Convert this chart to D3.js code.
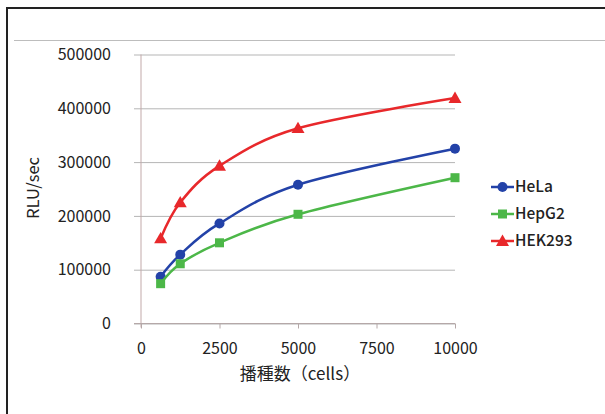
<!DOCTYPE html>
<html>
<head>
<meta charset="utf-8">
<script src="https://cdn.jsdelivr.net/npm/d3@7"></script>
<style>
  html, body { margin: 0; padding: 0; background: #fff; }
  svg { display: block; }
</style>
</head>
<body>
<svg id="chart" width="605" height="414"></svg>
<script>
// Seeding density (cells per well)
const cellCounts = [625, 1250, 2500, 5000, 10000];
// Luminescence (RLU/sec) per cell line
const hela   = [87000, 128000, 186000, 258000, 325000];
const hepg2  = [74000, 111000, 150000, 203000, 271000];
const hek293 = [158000, 225000, 293000, 363000, 419000];

const seriesNames = ["HeLa", "HepG2", "HEK293"];
const seriesColors = ["#2342a8", "#4cb748", "#e8282b"];
const seriesMarkers = ["circle", "square", "triangle"];
const seriesValues = [hela, hepg2, hek293];

const xTicks = [0, 2500, 5000, 7500, 10000];
const yTicks = [0, 100000, 200000, 300000, 400000, 500000];

const font = "'Noto Sans CJK JP', 'Noto Sans', sans-serif";
const svg = d3.select("#chart");

// frame
svg.append("rect")
  .attr("x", 7).attr("y", 8).attr("width", 640).attr("height", 440)
  .attr("fill", "#fff").attr("stroke", "#222").attr("stroke-width", 2);
svg.append("line")
  .attr("x1", 14).attr("x2", 605).attr("y1", 40.5).attr("y2", 40.5)
  .attr("stroke", "#bdbdbd").attr("stroke-width", 1);

const x = d3.scaleLinear().domain([0, 10000]).range([141, 455]);
const y = d3.scaleLinear().domain([0, 500000]).range([323.5, 54.5]);

// horizontal gridlines with left ticks
const yAxis = svg.append("g")
  .attr("transform", `translate(${x(0)},0)`)
  .call(d3.axisLeft(y).tickValues(yTicks).tickFormat(d3.format("d")));
yAxis.select(".domain").remove();
yAxis.selectAll(".tick line")
  .attr("x1", -7).attr("x2", 455 - 141)
  .attr("stroke", "#b5b5b5").attr("stroke-width", 1);
yAxis.selectAll(".tick text")
  .attr("x", -30)
  .attr("font-family", font).attr("font-size", 16).attr("fill", "#222");

// vertical axis line
svg.append("line")
  .attr("x1", x(0)).attr("x2", x(0)).attr("y1", y(500000)).attr("y2", y(0) + 4)
  .attr("stroke", "#c2a9a9").attr("stroke-width", 1);

// x axis
const xAxis = svg.append("g")
  .attr("transform", `translate(0,${y(0)})`)
  .call(d3.axisBottom(x).tickValues(xTicks).tickSize(5).tickFormat(d3.format("d")));
xAxis.select(".domain").attr("d", `M${x(0) - 7},0H${x(10000)}`).attr("stroke", "#b5a8a8");
xAxis.selectAll(".tick line").attr("stroke", "#b5a8a8");
xAxis.selectAll(".tick text")
  .attr("y", 19)
  .attr("font-family", font).attr("font-size", 16).attr("fill", "#222");

// axis titles
svg.append("text")
  .attr("transform", "translate(39,188) rotate(-90)")
  .attr("text-anchor", "middle")
  .attr("font-family", font).attr("font-size", 16.5).attr("fill", "#222")
  .text("RLU/sec");
svg.append("text")
  .attr("x", 300).attr("y", 380)
  .attr("text-anchor", "middle")
  .attr("font-family", font).attr("font-size", 17).attr("fill", "#222")
  .text("播種数（cells）");

const line = d3.line()
  .x((d, i) => x(cellCounts[i]))
  .y(d => y(d))
  .curve(d3.curveCatmullRom.alpha(0));

function drawMarker(g, type, cx, cy, color) {
  if (type === "circle") {
    g.append("circle").attr("cx", cx).attr("cy", cy).attr("r", 5).attr("fill", color);
  } else if (type === "square") {
    g.append("rect").attr("x", cx - 4.5).attr("y", cy - 4.5)
      .attr("width", 9).attr("height", 9).attr("fill", color);
  } else {
    const s = 6.5;
    g.append("path")
      .attr("d", `M${cx},${cy - s}L${cx + s},${cy + s * 0.75}L${cx - s},${cy + s * 0.75}Z`)
      .attr("fill", color);
  }
}

seriesValues.forEach((vals, k) => {
  const g = svg.append("g");
  g.append("path").datum(vals)
    .attr("d", line).attr("fill", "none")
    .attr("stroke", seriesColors[k]).attr("stroke-width", 2.5);
  vals.forEach((v, i) => drawMarker(g, seriesMarkers[k], x(cellCounts[i]), y(v), seriesColors[k]));
});

// legend
const legendY = [187, 214, 241];
seriesNames.forEach((name, k) => {
  const g = svg.append("g");
  g.append("line")
    .attr("x1", 491).attr("x2", 514).attr("y1", legendY[k]).attr("y2", legendY[k])
    .attr("stroke", seriesColors[k]).attr("stroke-width", 2.5);
  drawMarker(g, seriesMarkers[k], 502.5, legendY[k], seriesColors[k]);
  g.append("text")
    .attr("x", 515).attr("y", legendY[k]).attr("dy", "0.35em")
    .attr("font-family", font).attr("font-size", 15.5).attr("font-weight", 500).attr("fill", "#222")
    .text(name);
});
</script>
</body>
</html>
